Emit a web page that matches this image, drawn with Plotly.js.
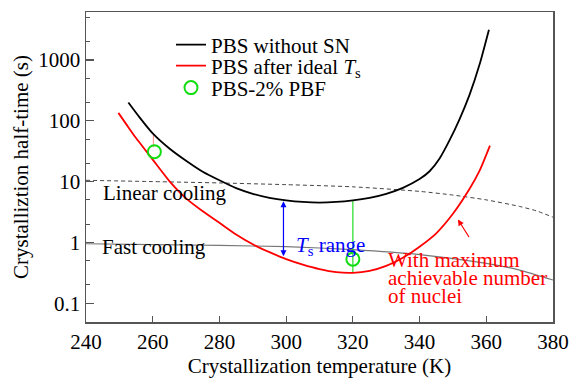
<!DOCTYPE html>
<html>
<head>
<meta charset="utf-8">
<script src="https://cdn.plot.ly/plotly-3.0.1.min.js"></script>
<style>
html,body{margin:0;padding:0;background:#fff;}
#chart{width:569px;height:378px;}
#chart svg text{font-family:'Liberation Serif','Times New Roman',serif !important;}
</style>
</head>
<body>
<div id="chart"></div>
<script>
// PBS without SN
const blackT = [252.7, 256, 260, 265, 270, 275, 280, 285, 290, 295, 300, 305, 310, 315, 320, 325, 330, 335, 340, 343, 346, 349, 352, 355, 358, 360.8];
const blackY = [200, 115, 62, 35, 22, 14.5, 10.5, 7.8, 6.3, 5.4, 4.9, 4.62, 4.52, 4.62, 4.9, 5.4, 6.3, 7.9, 11, 14.8, 24, 48, 107, 270, 850, 3160];
// PBS after ideal Ts
const redT = [249.7, 252, 255, 260, 265, 270, 275, 280, 285, 290, 295, 300, 305, 310, 315, 320, 325, 330, 335, 340, 345, 350, 355, 358, 361.1];
const redY = [135, 89, 52, 23, 10.2, 5.3, 3.25, 2.1, 1.35, 0.93, 0.69, 0.53, 0.43, 0.363, 0.324, 0.316, 0.34, 0.41, 0.56, 0.85, 1.41, 2.95, 7.6, 15.1, 39];
// PBS-2% PBF
const pbfT = [260.5, 320];
const pbfY = [31, 0.53];
// Linear cooling (dashed)
const linT = [240, 260, 280, 300, 320, 340, 350, 360, 370, 375, 380];
const linY = [10.5, 10, 9.5, 8.9, 8.2, 6.9, 6.0, 5.0, 3.9, 3.3, 2.6];
// Fast cooling (solid gray)
const fastT = [240, 260, 280, 300, 320, 340, 360, 370, 380];
const fastY = [0.95, 0.92, 0.89, 0.85, 0.76, 0.63, 0.45, 0.35, 0.24];
// connectors
const pinkT = [260.2, 260.2];
const pinkY = [37, 61];
const greenT = [320, 320];
const greenY = [0.316, 4.9];
// Ts range arrow
const tsT = 299.2;
const tsTop = 4.75;
const tsBottom = 0.56;

const tickVals = [0.1, 1, 10, 100, 1000];
const tickText = ['0.1', '1', '10', '100', '1000'];
const xTicks = [240, 260, 280, 300, 320, 340, 360, 380];

const FONT = 'Liberation Serif';
const fs = (c) => ({family: FONT, size: 21, color: c || '#000'});

const traces = [
  {x: linT, y: linY, mode: 'lines', line: {color: '#444', width: 1, dash: '4px,3px', shape: 'spline', smoothing: 0.6}, showlegend: false, hoverinfo: 'skip'},
  {x: fastT, y: fastY, mode: 'lines', line: {color: '#777', width: 1.2, shape: 'spline', smoothing: 0.6}, showlegend: false, hoverinfo: 'skip'},
  {x: pinkT, y: pinkY, mode: 'lines', line: {color: '#ff8a8a', width: 1}, showlegend: false, hoverinfo: 'skip'},
  {x: greenT, y: greenY, mode: 'lines', line: {color: '#22dd22', width: 1.2}, showlegend: false, hoverinfo: 'skip'},
  {x: blackT, y: blackY, mode: 'lines', name: 'PBS without SN', legend: 'legend', line: {color: '#000', width: 1.8, shape: 'spline', smoothing: 0.6}},
  {x: redT, y: redY, mode: 'lines', name: 'PBS after ideal <i>T</i><sub>s</sub>', legend: 'legend2', line: {color: '#ff0000', width: 1.8, shape: 'spline', smoothing: 0.6}},
  {x: pbfT, y: pbfY, mode: 'markers', name: 'PBS-2% PBF', legend: 'legend3', marker: {symbol: 'circle-open', size: 13, color: '#11dd11', line: {width: 2, color: '#11dd11'}}}
];

const legBase = (y) => ({x: 0.182, y: y, xanchor: 'left', yanchor: 'middle', bgcolor: 'rgba(0,0,0,0)', font: fs(), borderwidth: 0});

const layout = {
  width: 569, height: 378,
  margin: {l: 86, r: 16, t: 12, b: 56},
  paper_bgcolor: '#fff', plot_bgcolor: '#fff',
  font: {family: FONT},
  showlegend: true,
  legend: legBase(0.8935),
  legend2: legBase(0.826),
  legend3: legBase(0.755),
  xaxis: {
    range: [240, 380], tickvals: xTicks, ticks: 'inside', ticklen: 6, tickwidth: 1.2, tickcolor: '#555',
    showline: true, linecolor: '#555', linewidth: 1.5, mirror: true, showgrid: false, zeroline: false,
    tickfont: fs(), title: {text: 'Crystallization temperature (K)', font: fs(), standoff: 6}
  },
  yaxis: {
    type: 'log', range: [-1.31, 3.79], tickvals: tickVals, ticktext: tickText, ticks: 'inside', ticklen: 8, tickwidth: 1.2, tickcolor: '#555',
    minor: {ticks: 'inside', ticklen: 4, tickcolor: '#555', tickwidth: 1, showgrid: false},
    showline: true, linecolor: '#555', linewidth: 1.5, mirror: true, showgrid: false, zeroline: false,
    tickfont: fs(), title: {text: 'Crystalliztion half-time (s)', font: fs(), standoff: 4}
  },
  annotations: [
    {x: 244.5, y: Math.log10(6.5), xref: 'x', yref: 'y', text: 'Linear cooling', showarrow: false, xanchor: 'left', font: fs()},
    {x: 244.3, y: Math.log10(0.85), xref: 'x', yref: 'y', text: 'Fast cooling', showarrow: false, xanchor: 'left', font: fs()},
    {x: 302.5, y: Math.log10(0.87), xref: 'x', yref: 'y', text: '<i>T</i><sub>s</sub> range', showarrow: false, xanchor: 'left', font: fs('#0000ff')},
    {x: 329.9, y: -0.29, xref: 'x', yref: 'y', text: 'With maximum', showarrow: false, xanchor: 'left', font: fs('#ff0000')},
    {x: 329.9, y: -0.585, xref: 'x', yref: 'y', text: 'achievable number', showarrow: false, xanchor: 'left', font: fs('#ff0000')},
    {x: 329.9, y: -0.88, xref: 'x', yref: 'y', text: 'of nuclei', showarrow: false, xanchor: 'left', font: fs('#ff0000')},
    {x: 351.5, y: 0.377, xref: 'x', yref: 'y', text: '', showarrow: true, ax: 12, ay: 19, arrowhead: 2, arrowsize: 1, arrowwidth: 1.2, arrowcolor: '#ff0000'},
    {x: tsT, y: Math.log10(tsTop), xref: 'x', yref: 'y', ax: tsT, ay: Math.log10(tsBottom), axref: 'x', ayref: 'y', text: '', showarrow: true, arrowhead: 2, startarrowhead: 2, arrowside: 'end+start', arrowsize: 1, arrowwidth: 1.2, arrowcolor: '#0000ff'}
  ]
};

Plotly.newPlot('chart', traces, layout, {displayModeBar: false, staticPlot: true});
</script>
</body>
</html>
